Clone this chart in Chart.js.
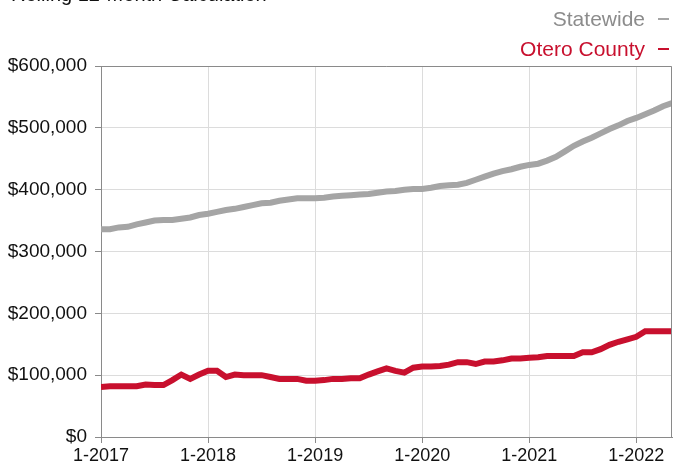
<!DOCTYPE html>
<html>
<head>
<meta charset="utf-8">
<script src="https://cdn.jsdelivr.net/npm/chart.js@4"></script>
<style>
  html, body { margin: 0; padding: 0; background: #fff; }
  #wrap { position: relative; width: 673px; height: 468px; }
</style>
</head>
<body>
<div id="wrap"><canvas id="myChart"></canvas></div>
<script>
// monthly rolling 12-month median, 1-2017 .. 5-2022
const statewide = [336000,336000,339000,340000,344000,347000,350000,351000,351000,353000,
  355000,359000,361000,364000,367000,369000,372000,375000,378000,379000,
  382000,384000,386000,386000,386000,387000,389000,390000,391000,392000,
  393000,395000,397000,398000,400000,401000,401000,403000,406000,407000,
  408000,411000,416000,421000,426000,430000,433000,437000,440000,442000,
  447000,453000,462000,471000,478000,484000,491000,498000,504000,511000,
  516000,522000,528000,535000,540000];
const otero = [81000,82000,82000,82000,82000,85000,84000,84000,92000,101000,
  94000,101000,107000,107000,97000,101000,100000,100000,100000,97000,
  94000,94000,94000,91000,91000,92000,94000,94000,95000,95000,
  101000,106000,111000,107000,104000,112000,114000,114000,115000,117000,
  121000,121000,118000,122000,122000,124000,127000,127000,128000,129000,
  131000,131000,131000,131000,137000,137000,142000,149000,154000,158000,
  162000,171000,171000,171000,171000];
const xTickLabels = ["1-2017","1-2018","1-2019","1-2020","1-2021","1-2022"];
const seriesNames = ["Statewide","Otero County"];
const titleText = "Rolling 12-Month Calculation";

const gray = "#a5a5a5";
const red = "#c8102e";
const font = "'Liberation Sans', Arial, Helvetica, sans-serif";

const months = [];
for (let i = 0; i < statewide.length; i++) {
  months.push((i % 12 + 1) + "-" + (2017 + Math.floor(i / 12)));
}

// title (cut at top) + right-aligned legend with dash after text, plus frame
const extras = {
  id: "extras",
  afterDraw(chart) {
    const ctx = chart.ctx, a = chart.chartArea;
    ctx.save();
    ctx.strokeStyle = "#8a8a8a";
    ctx.lineWidth = 1;
    ctx.beginPath();
    ctx.moveTo(a.left, a.top + 0.5);
    ctx.lineTo(a.right - 0.5, a.top + 0.5);
    ctx.lineTo(a.right - 0.5, a.bottom);
    ctx.stroke();

    ctx.fillStyle = "#111";
    ctx.font = "20px " + font;
    ctx.textBaseline = "alphabetic";
    ctx.fillText(titleText, 11, 1);

    ctx.font = "21px " + font;
    ctx.textAlign = "right";
    const rows = [[seriesNames[0], "#8c8c8c", gray, 26], [seriesNames[1], red, red, 56]];
    rows.forEach(r => {
      ctx.fillStyle = r[1];
      ctx.fillText(r[0], 645, r[3]);
      ctx.strokeStyle = r[2];
      ctx.lineWidth = 2;
      ctx.beginPath();
      ctx.moveTo(658, r[3] - 7);
      ctx.lineTo(669, r[3] - 7);
      ctx.stroke();
    });
    ctx.restore();
  }
};

new Chart("myChart", {
  type: "line",
  data: {
    labels: months,
    datasets: [{
      label: seriesNames[0],
      data: statewide.map((v, i) => ({x: i, y: v})),
      borderColor: gray,
      borderWidth: 6,
      pointRadius: 0,
      fill: false
    }, {
      label: seriesNames[1],
      data: otero.map((v, i) => ({x: i, y: v})),
      borderColor: red,
      borderWidth: 6,
      pointRadius: 0,
      fill: false
    }]
  },
  options: {
    responsive: true,
    maintainAspectRatio: false,
    animation: false,
    layout: {padding: {top: 66, left: 0, right: 1, bottom: 0}},
    plugins: {
      legend: {display: false},
      tooltip: {enabled: false}
    },
    scales: {
      x: {
        type: "linear",
        min: 0,
        max: statewide.length - 1,
        grid: {color: "#dcdcdc", tickColor: "#8a8a8a", tickLength: 6},
        border: {color: "#8a8a8a"},
        ticks: {
          stepSize: 12,
          includeBounds: false,
          maxRotation: 0,
          padding: 2,
          color: "#111",
          font: {family: font, size: 18},
          callback: v => xTickLabels[v / 12]
        },
        afterFit: s => { s.height = 31; }
      },
      y: {
        min: 0,
        max: 600000,
        grid: {color: "#dcdcdc", tickColor: "#8a8a8a", tickLength: 6},
        border: {color: "#8a8a8a"},
        ticks: {
          stepSize: 100000,
          padding: 8,
          color: "#111",
          font: {family: font, size: 19},
          callback: v => "$" + v.toLocaleString("en-US")
        },
        afterFit: s => { s.width = 101; }
      }
    }
  },
  plugins: [extras]
});
</script>
</body>
</html>
